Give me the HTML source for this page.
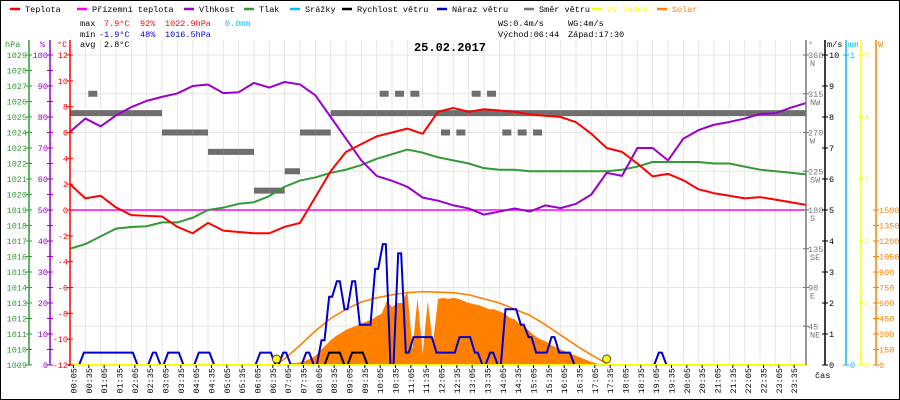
<!DOCTYPE html>
<html><head><meta charset="utf-8"><style>
html,body{margin:0;padding:0;background:#fff;}
svg{display:block;font-family:"Liberation Mono","DejaVu Sans Mono",monospace;font-size:8.5px;}
</style></head><body>
<svg id="chart" width="900" height="400" viewBox="0 0 900 400" xmlns="http://www.w3.org/2000/svg">
<rect x="0.5" y="0.5" width="899" height="399" fill="#fff" stroke="#000"/>
<g id="grid"></g>
<g id="marks"></g>
<g id="axes"></g>
<g id="legend"></g>
<g>
<text x="80" y="26">max</text>
<text x="104" y="26" fill="#f00">7.9°C</text>
<text x="140" y="26" fill="#f00">92%</text>
<text x="165" y="26" fill="#f00">1022.9hPa</text>
<text x="225" y="26" fill="#00bfff">0.0mm</text>
<text x="80" y="37">min</text>
<text x="99" y="37" fill="#00c">-1.9°C</text>
<text x="140" y="37" fill="#00c">48%</text>
<text x="165" y="37" fill="#00c">1016.5hPa</text>
<text x="80" y="47">avg</text>
<text x="104" y="47">2.8°C</text>
<text x="498" y="26">WS:0.4m/s</text>
<text x="568" y="26">WG:4m/s</text>
<text x="498" y="37">Východ:06:44</text>
<text x="568" y="37">Západ:17:30</text>
<text x="450" y="51" text-anchor="middle" font-weight="bold" font-size="12">25.02.2017</text>
</g>
</svg>
<script>
// ---- data ----
const halfHours = [0,0.5,1,1.5,2,2.5,3,3.5,4,4.5,5,5.5,6,6.5,7,7.5,8,8.5,9,9.5,10,10.5,11,11.5,12,12.5,13,13.5,14,14.5,15,15.5,16,16.5,17,17.5,18,18.5,19,19.5,20,20.5,21,21.5,22,22.5,23,23.5,24];
const temperature = [2.0,0.9,1.1,0.2,-0.4,-0.45,-0.5,-1.3,-1.8,-1.0,-1.6,-1.7,-1.8,-1.8,-1.3,-1.0,1.0,3.0,4.5,5.1,5.7,6.0,6.3,5.9,7.6,7.9,7.6,7.8,7.7,7.6,7.4,7.3,7.2,6.8,5.9,4.8,4.5,3.6,2.6,2.8,2.3,1.6,1.3,1.1,0.9,1.0,0.8,0.6,0.4];
const humidity = [75.2,79.5,77,80.5,83.2,85.2,86.5,87.6,90,90.5,87.7,88,91,89.5,91.3,90.5,87,80,73,66,61,59.4,57.5,54,53,51.5,50.5,48.5,49.5,50.5,49.5,51.5,50.6,52,55,62,61,70,70,66,73,75.8,77.5,78.4,79.5,81,81.2,83,84.5];
const pressure = [1016.5,1016.8,1017.3,1017.8,1017.9,1017.95,1018.2,1018.2,1018.5,1019.0,1019.15,1019.4,1019.5,1019.9,1020.5,1020.9,1021.1,1021.4,1021.6,1021.9,1022.3,1022.6,1022.9,1022.7,1022.4,1022.2,1022.0,1021.7,1021.6,1021.6,1021.5,1021.5,1021.5,1021.5,1021.5,1021.5,1021.6,1021.8,1022.1,1022.1,1022.1,1022.1,1022.0,1022.0,1021.8,1021.6,1021.5,1021.4,1021.3];
const feelsLike = [0,0];
const windDir = [292.5,292.5,292.5,292.5,292.5,292.5,270,270,270,247.5,247.5,247.5,202.5,202.5,225,270,270,292.5,292.5,292.5,292.5,292.5,292.5,292.5,292.5,292.5,292.5,292.5,292.5,292.5,292.5,292.5,292.5,292.5,292.5,292.5,292.5,292.5,292.5,292.5,292.5,292.5,292.5,292.5,292.5,292.5,292.5,292.5];
const windDirAlt = [null,315,null,null,null,null,null,null,null,null,null,null,null,null,null,null,null,null,null,null,315,315,315,null,270,270,315,315,270,270,270,null,null,null,null,null,null,null,null,null,null,null,null,null,null,null,null,null];
const gust = [0,0,0.4,0.4,0.4,0.4,0.4,0.4,0.4,0,0,0.4,0,0.4,0.4,0,0,0.4,0.4,0,0,0,0,0,0,0.4,0.4,0,0.4,0,0,0.4,0,0.8,2.2,2.7,1.8,2.7,1.3,1.3,3.1,3.9,0,3.6,0.4,0.9,0.9,0.9,0.4,0.4,0.4,0.9,0.9,0.4,0,0.4,0,1.8,1.8,1.3,0.9,0.4,0.4,0.9,0.4,0.4,0,0,0,0,0,0,0,0,0,0,0,0.4,0,0,0,0,0,0,0,0,0,0,0,0,0,0,0,0,0,0];
const windSpeed = [0,0,0,0,0,0,0,0,0,0,0,0,0,0,0,0,0,0,0,0,0,0,0,0,0,0,0,0,0,0,0,0,0,0,0.4,0.4,0,0.4,0.4,0,0,0,0,0,0,0,0,0,0,0,0,0,0,0,0,0,0,0,0,0,0,0,0,0,0,0,0,0,0,0,0,0,0,0,0,0,0,0,0,0,0,0,0,0,0,0,0,0,0,0,0,0,0,0,0,0];
const solarStart = 7;
const solar = [5,15,20,25,40,60,90,140,190,240,280,310,340,360,380,400,420,440,470,500,620,560,600,600,720,150,650,100,620,200,640,650,640,650,640,620,600,590,580,560,540,540,520,500,460,440,400,370,320,280,250,230,200,170,150,130,110,90,70,50,30,15,5,0];
const solarMaxTimes = [6.72,7,7.5,8,8.5,9,9.5,10,10.5,11,11.5,12,12.5,13,13.5,14,14.5,15,15.5,16,16.5,17,17.5];
const solarMax = [0,60,190,330,450,540,610,650,680,700,710,705,700,680,640,600,540,480,390,290,190,97,15];
const sunEvents = [6.733,17.5];
const xLabels = [];
for (let h=0;h<24;h++){const hh=(h<10?'0':'')+h; xLabels.push(hh+':05'); xLabels.push(hh+':35');}

// ---- scales ----
const X0=70, X1=806, YT=55, YB=365;
const xT = t => X0 + t*(X1-X0)/24;
const yC = v => 210 - v*12.9167;
const yH = v => 210 - (v-50)*3.1;
const yP = v => 210 - (v-1019)*15.5;
const yW = v => YB - v*31;
const yD = v => YB - v*310/360;
const ySol = v => YB - v*155/1500;

const NS='http://www.w3.org/2000/svg';
function mk(tag, parent, attrs){const e=document.createElementNS(NS,tag);for(const k in attrs)e.setAttribute(k,attrs[k]);parent.appendChild(e);return e;}
const grid=document.getElementById('grid'), marks=document.getElementById('marks'), axes=document.getElementById('axes'), legend=document.getElementById('legend');

// grid
for(let i=0;i<=48;i++){const x=X0+i*(X1-X0)/48;
 const l=mk('line',grid,{x1:x,x2:x,y1:YT-15,y2:YB,stroke:'#e6e6e6','stroke-width':1});
 
 }
for(let d=0;d<=360;d+=45){const y=yD(d);
 const l=mk('line',grid,{x1:X0,x2:X1,y1:y,y2:y,stroke:'#e6e6e6','stroke-width':1});
 
 }

// solar area
{let pts=[[xT(solarStart),YB]];solar.forEach((v,k)=>pts.push([xT(solarStart+k/6),ySol(v)]));pts.push([xT(solarStart+(solar.length-1)/6),YB]);
 const p=mk('polygon',marks,{points:pts.map(p=>p.join(',')).join(' '),fill:'#ff8000'});
 
 }
{const p=mk('polyline',marks,{points:solarMaxTimes.map((t,i)=>xT(t)+','+ySol(solarMax[i])).join(' '),fill:'none',stroke:'#ff8000','stroke-width':1.6});
 
 }

// wind direction
windDir.forEach((d,i)=>{const r=mk('rect',marks,{x:xT(i/2),y:yD(d)-3,width:(X1-X0)/48,height:6,fill:'#6e6e6e'});
 
 });
windDirAlt.forEach((d,i)=>{if(d===null)return;const r=mk('rect',marks,{x:xT(i/2)+3,y:yD(d)-3,width:9,height:6,fill:'#6e6e6e'});
 
 });

// feels-like line
{const l=mk('line',marks,{x1:X0,x2:X1,y1:yC(feelsLike[0]),y2:yC(feelsLike[1]),stroke:'#ff00ff','stroke-width':1.6});
 
 }

function line(vals, yf, color, name, w){const pts=vals.map((v,i)=>xT(halfHours[i])+','+yf(v)).join(' ');
 const p=mk('polyline',marks,{points:pts,fill:'none',stroke:color,'stroke-width':w||2,'stroke-linejoin':'round'});return p;}
let s;
s=line(pressure,yP,'#339933');


s=line(humidity,yH,'#9900cc');


s=line(temperature,yC,'#ff0000');



function stepLine(vals,color){let pts=[];vals.forEach((v,i)=>{const x=xT(i/4);pts.push((x-1.5)+','+yW(v));pts.push((x+1.5)+','+yW(v));});
 return mk('polyline',marks,{points:pts.join(' '),fill:'none',stroke:color,'stroke-width':2});}
s=stepLine(gust,'#0000cc');


s=stepLine(windSpeed,'#000');



// UV baseline
s=mk('line',marks,{x1:X0,x2:X1,y1:YB,y2:YB,stroke:'#ffff00','stroke-width':2});


sunEvents.forEach(t=>{const c=mk('circle',marks,{cx:xT(t),cy:YB-6,r:4,fill:'#ffff00',stroke:'#444','stroke-width':1});
 
 });

// axes
function vAxis(x,color,ticks,yf,labelX,anchor,name,tickDir){
 const a=mk('line',axes,{x1:x,x2:x,y1:40,y2:YB,stroke:color,'stroke-width':1.5});
 
 
 ticks.forEach(t=>{const y=yf(t.v);mk('line',axes,{x1:x-3,x2:x+3,y1:y,y2:y,stroke:color,'stroke-width':1});
  if(t.l!==undefined){const tx=mk('text',axes,{x:labelX,y:y+3,fill:color,'text-anchor':anchor});tx.textContent=t.l;
  
  }});}
let tk=[];for(let p=1009;p<=1029;p++)tk.push({v:p,l:String(p)});
vAxis(29,'#339933',tk,yP,27,'end','pressure-axis');
tk=[];for(let h=0;h<=100;h+=5)tk.push({v:h,l:h%10===0?String(h):undefined});
tk=tk.filter(t=>yH(t.v)<=YB);
vAxis(50,'#9900cc',tk,yH,48,'end','humidity-axis');
tk=[];for(let c=-12;c<=12;c+=2)tk.push({v:c,l:String(c)});
vAxis(70,'#ff0000',tk,yC,68,'end','temperature-axis');
tk=[];const dn={360:'N',315:'NW',270:'W',225:'SW',180:'S',135:'SE',90:'E',45:'NE'};
for(let d=45;d<=360;d+=45)tk.push({v:d,l:String(d)});
vAxis(806,'#777',tk,yD,808,'start','direction-axis');
Object.keys(dn).forEach(d=>{const t=mk('text',axes,{x:810,y:yD(+d)+11,fill:'#777'});t.textContent=dn[d];
 
 });
tk=[];for(let w=0;w<=10;w++)tk.push({v:w,l:String(w)});
vAxis(825,'#000',tk,yW,829,'start','wind-axis');
vAxis(846,'#00bfff',[{v:0,l:'0'},{v:10,l:'1'}],yW,850,'start','rain-axis');
tk=[];for(let u=0;u<=5;u++)tk.push({v:u*2,l:String(u)});
vAxis(861,'#ffff00',tk,yW,864,'start','uv-axis');
tk=[];for(let w=0;w<=1500;w+=150)tk.push({v:w,l:String(w)});
vAxis(876,'#ff8000',tk,ySol,879,'start','solar-axis');
// remove solar axis above 1500? keep line full as in ref
[['hPa',5,'#339933'],['%',40,'#9900cc'],['°C',57,'#ff0000'],['°',808,'#777'],['m/s',827,'#000'],['mm',848,'#00bfff'],['W',878,'#ff8000']].forEach(h=>{
 const t=mk('text',axes,{x:h[1],y:47,fill:h[2]});t.textContent=h[0];
 
 });
{const t=mk('text',axes,{x:815,y:378});t.textContent='čas';
 
 }
xLabels.forEach((lab,i)=>{const x=X0+3.5+i*(X1-X0)/48;
 mk('line',axes,{x1:x,x2:x,y1:YB,y2:YB+3,stroke:'#000'});
 const t=mk('text',axes,{x:0,y:0,transform:'translate('+(x+3)+',368) rotate(-90)','text-anchor':'end'});t.textContent=lab;
 
 });

// legend
[['Teplota','#ff0000',3],['Přízemní teplota','#ff00ff',70],['Vlhkost','#9900cc',177],['Tlak','#339933',237],['Srážky','#00bfff',283],['Rychlost větru','#000',335],['Náraz větru','#0000cc',430],['Směr větru','#777',517],['UV index','#ffff00',585],['Solar','#ff8000',650]].forEach(e=>{
 const g=mk('g',legend,{});
 
 
 mk('line',g,{x1:e[2]+7,x2:e[2]+17,y1:9,y2:9,stroke:e[1],'stroke-width':2.5});
 const t=mk('text',g,{x:e[2]+22,y:12,fill:(e[0]==='UV index'||e[0]==='Solar')?e[1]:'#000'});t.textContent=e[0];});
</script>
</body></html>
